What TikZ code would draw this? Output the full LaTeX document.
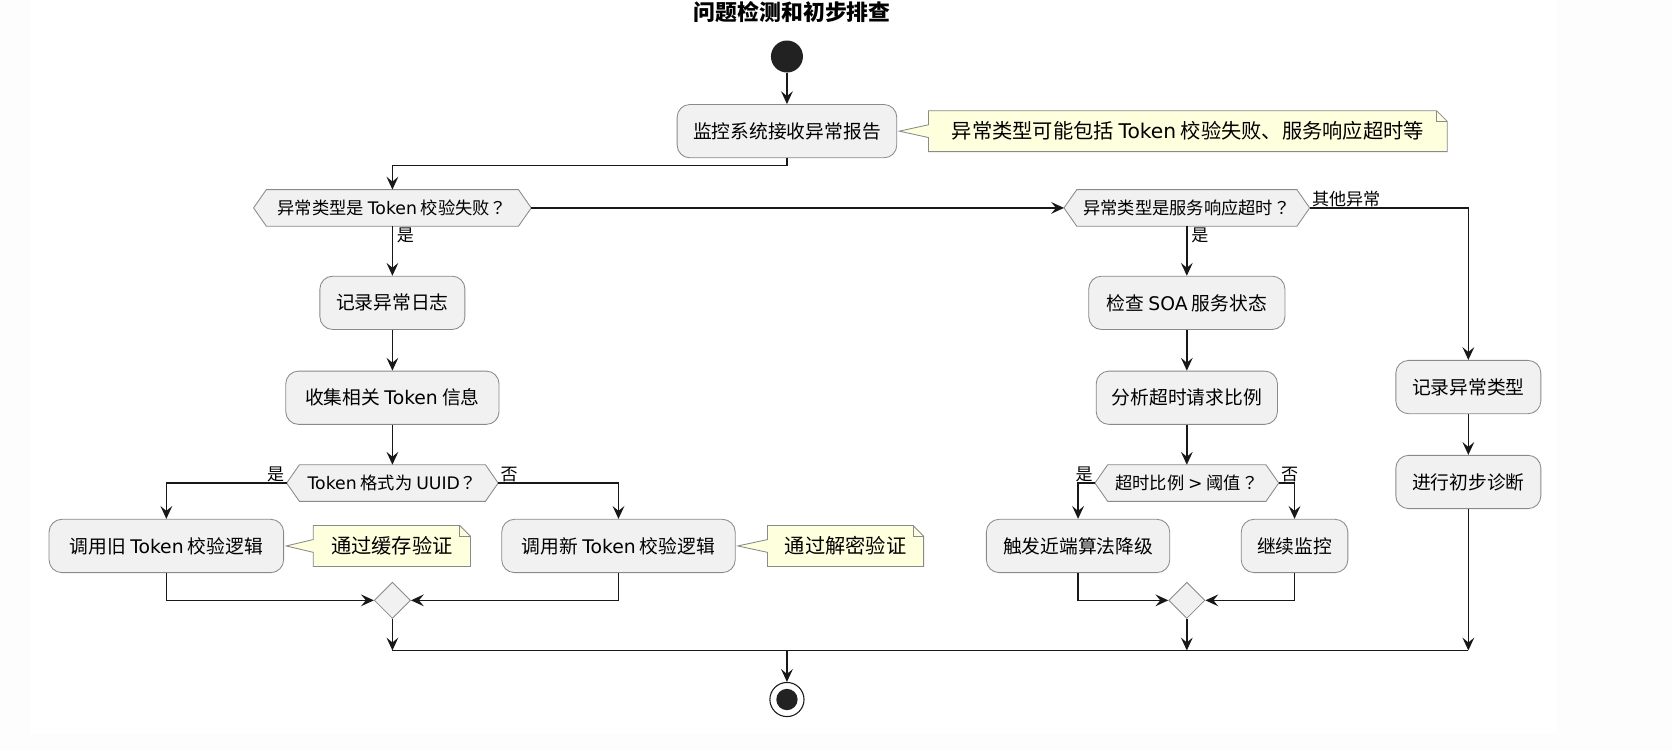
\documentclass[tikz,border=0pt]{standalone}
\usepackage{fontspec}
\setmainfont{Noto Sans CJK SC}
\newfontfamily\lat{DejaVu Sans}
\newfontfamily\jpq{Noto Sans CJK JP}
\newcommand\qm{{\jpq ？}}
\usetikzlibrary{arrows.meta,shapes.geometric,calc}
\pgfdeclarelayer{back}
\pgfdeclarelayer{bg}
\pgfsetlayers{back,bg,main}
\definecolor{actfill}{HTML}{F1F1F1}
\definecolor{bord}{HTML}{8A8A8A}
\definecolor{linec}{HTML}{181818}
\definecolor{notefill}{HTML}{FEFFDD}
\definecolor{outerbg}{HTML}{FDFDFD}
\definecolor{dot}{HTML}{222222}
\tikzset{
 act/.style={rectangle, rounded corners=12pt, fill=actfill, draw=bord, line width=0.8pt, minimum height=50pt, inner sep=0pt, font=\fontsize{17.6}{21}\selectfont},
 hexnode/.style={rectangle, minimum height=34pt, inner sep=0pt, font=\fontsize{16.2}{19}\selectfont},
 hexshape/.style={fill=actfill, draw=bord, line width=0.8pt},
 notenode/.style={rectangle, minimum height=38pt, inner sep=0pt, font=\fontsize{19}{23}\selectfont},
 noteshape/.style={fill=notefill, draw=bord, line width=0.8pt},
 mergenode/.style={diamond, aspect=1, minimum width=34pt, minimum height=34pt, inner sep=0pt, fill=actfill, draw=bord, line width=0.8pt},
 conn/.style={draw=linec, line width=1.3pt, -{Stealth[length=12pt,width=11pt,inset=4.5pt]}},
 wire/.style={draw=linec, line width=1.3pt},
 lbl/.style={inner sep=1pt, font=\fontsize{16}{19}\selectfont},
}
\newcommand\HexOutline[1]{\begin{pgfonlayer}{bg}\draw[hexshape] ([xshift=12pt]#1.north west) -- ([xshift=-12pt]#1.north east) -- (#1.east) -- ([xshift=-12pt]#1.south east) -- ([xshift=12pt]#1.south west) -- (#1.west) -- cycle;\end{pgfonlayer}}
\newcommand\NoteOutline[2]{\begin{pgfonlayer}{bg}\draw[noteshape] (#1.north west) -- ([xshift=-10pt]#1.north east) -- ([yshift=-10pt]#1.north east) -- (#1.south east) -- (#1.south west) -- ([yshift=-6pt]#1.west) -- ([xshift=2pt]#2.east) -- ([yshift=6pt]#1.west) -- cycle;
\draw[noteshape, fill=none] ([xshift=-10pt]#1.north east) -- ([xshift=-10pt,yshift=-10pt]#1.north east) -- ([yshift=-10pt]#1.north east);\end{pgfonlayer}}
\begin{document}
\begin{tikzpicture}[x=1pt,y=1pt]
\useasboundingbox (0,0) rectangle (1568,-703);
\begin{pgfonlayer}{back}
\fill[outerbg] (0,0) rectangle (1568,-703);
\fill[white] (28,0) rectangle (1460,-687);
\end{pgfonlayer}
% title and start
\node[font=\fontsize{20.5}{24}\selectfont\bfseries] (title) at (743,-11) {问题检测和初步排查};
\node[circle, fill=dot, minimum size=30pt, inner sep=0pt] (start) at (738,-53) {};
% top action and note
\node[act, minimum width=206pt] (a1) at (738,-123) {监控系统接收异常报告};
\node[notenode, minimum width=486pt] (n1) at (1114,-123) {异常类型可能包括 {\lat Token} 校验失败、服务响应超时等};
\NoteOutline{n1}{a1}
% decisions
\node[hexnode, minimum width=260pt] (d1) at (368,-195) {异常类型是 {\lat Token} 校验失败\qm};
\HexOutline{d1}
\node[hexnode, minimum width=230pt] (d2) at (1113,-195) {异常类型是服务响应超时\qm};
\HexOutline{d2}
% left column
\node[act, minimum width=136pt] (a2) at (368,-284) {记录异常日志};
\node[act, minimum width=200pt] (a3) at (368,-373) {收集相关 {\lat Token} 信息};
\node[hexnode, minimum width=198pt] (d3) at (368,-453) {{\lat Token} 格式为 {\lat UUID}\qm};
\HexOutline{d3}
\node[act, minimum width=220pt] (a4) at (156,-512) {调用旧 {\lat Token} 校验逻辑};
\node[notenode, minimum width=147pt] (n2) at (367.5,-512) {通过缓存验证};
\NoteOutline{n2}{a4}
\node[act, minimum width=219pt] (a5) at (580,-512) {调用新 {\lat Token} 校验逻辑};
\node[notenode, minimum width=146pt] (n3) at (793,-512) {通过解密验证};
\NoteOutline{n3}{a5}
\node[mergenode] (m1) at (368,-563) {};
% middle column
\node[act, minimum width=184pt] (a6) at (1113,-284) {检查 {\lat SOA} 服务状态};
\node[act, minimum width=170pt] (a7) at (1113,-373) {分析超时请求比例};
\node[hexnode, minimum width=172pt] (d4) at (1113,-453) {超时比例 {\lat >} 阈值\qm};
\HexOutline{d4}
\node[act, minimum width=172pt] (a8) at (1011,-512) {触发近端算法降级};
\node[act, minimum width=100pt] (a9) at (1214,-512) {继续监控};
\node[mergenode] (m2) at (1113,-563) {};
% right column
\node[act, minimum width=136pt] (ar1) at (1377,-363) {记录异常类型};
\node[act, minimum width=136pt] (ar2) at (1377,-452) {进行初步诊断};
% end
\node[circle, draw=linec, line width=1pt, fill=white, minimum size=32pt, inner sep=0pt] (end) at (738,-656) {};
\node[circle, fill=dot, minimum size=20pt, inner sep=0pt] (endin) at (end.center) {};
% junction points
\coordinate (jl) at (368,-610);
\coordinate (jc) at (738,-610);
\coordinate (jm) at (1113,-610);
\coordinate (jr) at (1377,-610);
% connectors
\draw[conn] (start) -- (a1.north);
\draw[conn] (a1.south) -- ++(0,-7) -| (d1.north);
\draw[conn] (d1.east) -- (d2.west);
\draw[conn] (d1.south) -- (a2.north);
\node[lbl, anchor=north west] (l1) at ([xshift=3pt]d1.south) {是};
\draw[conn] (a2.south) -- (a3.north);
\draw[conn] (a3.south) -- (d3.north);
\draw[conn] (d3.west) -| (a4.north);
\node[lbl, anchor=south east] (l2) at ([xshift=-1pt]d3.west) {是};
\draw[conn] (d3.east) -| (a5.north);
\node[lbl, anchor=south west] (l3) at ([xshift=1pt]d3.east) {否};
\draw[conn] (a4.south) |- (m1.west);
\draw[conn] (a5.south) |- (m1.east);
\draw[conn] (m1.south) -- (jl);
\draw[conn] (d2.south) -- (a6.north);
\node[lbl, anchor=north west] (l4) at ([xshift=3pt]d2.south) {是};
\draw[conn] (a6.south) -- (a7.north);
\draw[conn] (a7.south) -- (d4.north);
\draw[conn] (d4.west) -| (a8.north);
\node[lbl, anchor=south east] (l5) at ([xshift=-1pt]d4.west) {是};
\draw[conn] (d4.east) -| (a9.north);
\node[lbl, anchor=south west] (l6) at ([xshift=1pt]d4.east) {否};
\draw[conn] (a8.south) |- (m2.west);
\draw[conn] (a9.south) |- (m2.east);
\draw[conn] (m2.south) -- (jm);
\draw[conn] (d2.east) -| (ar1.north);
\node[lbl, anchor=south west] (l7) at ([xshift=1pt]d2.east) {其他异常};
\draw[conn] (ar1.south) -- (ar2.north);
\draw[conn] (ar2.south) -- (jr);
\draw[wire] (jl) -- (jr);
\draw[conn] (jc) -- (end.north);
\end{tikzpicture}
\end{document}
